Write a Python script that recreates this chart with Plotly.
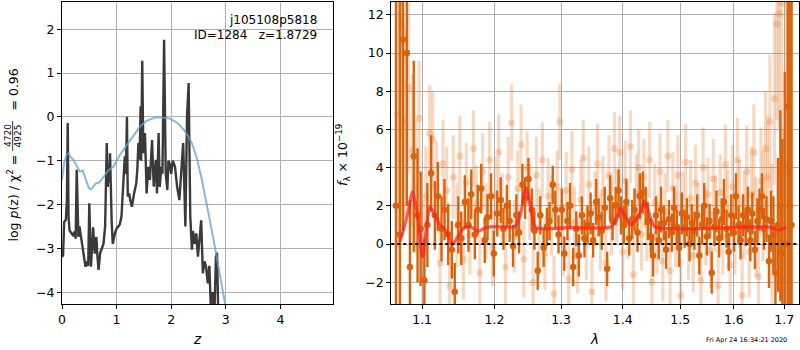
import plotly.graph_objects as go

# ---------------- left panel data: log p(z) ----------------
z_pz = [0.000,0.020,0.040,0.070,0.090,0.105,0.120,0.140,0.170,0.200,
        0.230,0.250,0.270,0.290,0.300,0.320,0.350,0.380,0.410,0.430,
        0.460,0.480,0.500,0.520,0.530,0.560,0.570,0.600,0.630,0.650,
        0.670,0.700,0.730,0.760,0.790,0.820,0.840,0.850,0.870,0.880,
        0.910,0.930,0.970,1.000,1.030,1.060,1.090,1.120,1.150,1.170,
        1.190,1.205,1.230,1.250,1.280,1.320,1.360,1.380,1.400,1.420,
        1.440,1.450,1.470,1.490,1.520,1.550,1.580,1.610,1.650,1.680,
        1.720,1.740,1.770,1.790,1.820,1.840,1.870,1.900,1.930,1.950,
        1.980,2.000,2.030,2.070,2.110,2.150,2.190,2.220,2.260,2.290,
        2.320,2.350,2.380,2.400,2.430,2.460,2.490,2.520,2.550,2.580,
        2.610,2.640,2.670,2.700,2.730,2.760,2.790,2.820,2.840,2.870]
logp_pz = [-3.20,-3.15,-2.40,-2.35,-1.90,-0.14,-2.30,-2.60,-2.65,-2.70,
           -2.62,-2.78,-1.21,-2.50,-2.74,-2.50,-2.75,-2.96,-3.30,-3.42,
           -3.30,-3.40,-1.97,-3.00,-3.42,-2.80,-2.52,-3.12,-2.74,-3.20,
           -3.49,-3.10,-3.00,-2.90,-2.50,-0.60,-1.60,-1.14,-1.50,-0.83,
           -2.40,-2.90,-2.65,-2.55,-2.50,-2.45,-2.27,-1.59,-0.90,-1.30,
           0.00,-1.82,-1.75,-1.90,-2.05,-1.75,-1.52,-1.20,-0.60,-0.98,
           0.24,-1.00,1.28,-0.83,-0.37,-1.75,-1.14,-1.44,-0.53,-1.59,
           -0.98,-1.75,-0.37,-1.60,-1.14,-1.30,1.76,-1.29,-1.67,-1.00,
           -1.10,-1.30,-1.00,-1.14,-1.60,-1.90,-1.14,-0.60,-2.50,0.00,
           0.77,-2.27,-3.03,-2.60,-2.90,-2.66,-3.19,-2.80,-2.36,-3.57,
           -3.30,-3.42,-3.80,-3.40,-4.50,-4.00,-4.60,-3.19,-3.10,-5.00]

z_prior = [0.00,0.04,0.08,0.12,0.16,0.21,0.27,0.33,0.38,0.44,
           0.49,0.53,0.58,0.62,0.68,0.76,0.85,0.94,1.06,1.19,
           1.31,1.43,1.55,1.71,1.86,1.98,2.13,2.26,2.38,2.46,
           2.55,2.64,2.73,2.82,2.91,3.00,3.05]
logp_prior = [-1.44,-1.05,-0.88,-0.83,-0.92,-0.98,-1.12,-1.25,-1.22,-1.44,
              -1.62,-1.66,-1.58,-1.52,-1.50,-1.37,-1.22,-1.14,-0.87,-0.64,
              -0.42,-0.22,-0.09,-0.01,-0.02,-0.04,-0.15,-0.34,-0.60,-0.90,
              -1.36,-1.90,-2.50,-3.10,-3.72,-4.33,-4.70]

left_xticks = [0, 1, 2, 3, 4]
left_yticks = [-4, -3, -2, -1, 0, 1, 2]

# ---------------- right panel data: spectrum ----------------
wave_main = [1.066,1.071,1.075,1.080,1.084,1.089,1.094,1.098,1.103,1.107,
             1.112,1.117,1.121,1.126,1.130,1.135,1.140,1.144,1.149,1.153,
             1.158,1.163,1.167,1.172,1.176,1.181,1.186,1.190,1.195,1.199,
             1.204,1.209,1.213,1.218,1.222,1.227,1.232,1.236,1.241,1.245,
             1.250,1.255,1.259,1.264,1.268,1.273,1.278,1.282,1.287,1.291,
             1.296,1.301,1.305,1.310,1.314,1.319,1.324,1.328,1.333,1.337,
             1.342,1.347,1.351,1.356,1.360,1.365,1.370,1.374,1.379,1.383,
             1.388,1.393,1.397,1.402,1.406,1.411,1.416,1.420,1.425,1.429,
             1.434,1.439,1.443,1.448,1.452,1.457,1.462,1.466,1.471,1.475,
             1.480,1.485,1.489,1.494,1.498,1.503,1.508,1.512,1.517,1.521,
             1.526,1.531,1.535,1.540,1.544,1.549,1.554,1.558,1.563,1.567,
             1.572,1.577,1.581,1.586,1.590,1.595,1.600,1.604,1.609,1.613,
             1.618,1.623,1.627,1.632,1.636,1.641,1.646,1.650,1.655,1.659,
             1.664,1.669,1.673,1.678,1.682,1.687,1.692,1.696,1.701,1.707,
             1.711,1.715]
flux_main = [2.0,0.5,10.7,10.0,-1.2,4.6,1.5,0.8,-1.9,1.0,
             3.7,1.5,2.5,0.8,1.8,0.5,-0.3,-2.5,1.0,0.3,
             2.2,1.0,2.6,0.5,1.8,2.9,0.2,1.4,2.5,-0.5,
             1.6,2.3,0.8,2.0,1.2,-0.1,1.5,0.6,3.1,2.4,
             3.4,1.8,0.7,-1.4,1.5,-0.2,0.9,1.2,3.1,1.8,
             0.5,1.8,-0.5,1.2,2.0,-1.2,0.8,-0.6,1.5,0.3,
             1.0,1.6,0.2,2.2,1.4,0.7,1.9,-1.3,2.4,1.2,
             2.0,2.8,1.5,1.0,2.2,0.3,1.3,1.8,0.6,2.5,
             2.7,2.0,1.2,0.4,-0.6,1.5,0.2,1.8,1.1,-0.3,
             1.3,0.6,1.9,0.9,-0.2,1.6,0.8,1.4,0.0,1.1,
             0.7,1.5,-0.6,1.0,2.0,0.4,1.2,-1.5,0.9,1.7,
             0.3,1.3,2.2,0.8,-0.4,1.5,0.6,2.5,1.0,0.2,
             1.5,0.9,1.8,0.2,1.6,-0.3,1.2,1.8,2.5,0.8,
             1.3,-0.9,1.2,0.5,-1.5,1.0,2.0,-0.5,0.0,7.2,
             2.0,1.0]
err_main = [16,14,10,8,3.5,5,3.5,3.0,2.2,2.2,
            2.0,1.8,1.8,1.7,1.6,1.6,1.5,1.5,1.5,1.4,
            1.4,1.4,1.3,1.3,1.3,1.3,1.2,1.2,1.2,1.2,
            1.2,1.2,1.1,1.1,1.1,1.1,1.1,1.1,1.1,1.1,
            1.1,1.1,1.0,1.0,1.0,1.0,1.0,1.0,1.0,1.0,
            1.0,1.1,0.9,1.0,1.2,1.0,0.9,1.1,1.0,1.0,
            1.0,1.1,0.9,1.2,1.0,1.0,1.1,0.9,1.2,1.0,
            1.0,1.1,1.0,1.0,1.2,0.9,1.0,1.1,1.0,1.2,
            1.1,1.0,1.0,0.9,1.1,1.0,1.0,1.2,0.9,1.0,
            1.0,1.0,1.1,0.9,1.0,1.1,1.0,1.0,0.9,1.0,
            1.0,1.1,1.0,1.0,1.2,1.0,0.9,1.1,1.0,1.1,
            1.0,1.1,1.2,1.0,1.0,1.1,1.0,1.2,1.0,1.0,
            1.1,1.0,1.2,1.1,1.1,1.0,1.2,1.1,1.2,1.1,
            1.2,1.4,1.6,2.0,2.5,3.5,5,6,9,14,
            18,25]

wave_beam = [1.068,1.073,1.078,1.082,1.087,1.091,1.096,1.101,1.105,1.110,
             1.114,1.119,1.124,1.128,1.133,1.137,1.142,1.147,1.151,1.156,
             1.160,1.165,1.170,1.174,1.179,1.183,1.188,1.193,1.197,1.202,
             1.206,1.211,1.216,1.220,1.225,1.229,1.234,1.239,1.243,1.248,
             1.252,1.257,1.262,1.266,1.271,1.275,1.280,1.285,1.289,1.294,
             1.298,1.303,1.308,1.312,1.317,1.321,1.326,1.331,1.335,1.340,
             1.344,1.349,1.354,1.358,1.363,1.367,1.372,1.377,1.381,1.386,
             1.390,1.395,1.400,1.404,1.409,1.413,1.418,1.423,1.427,1.432,
             1.436,1.441,1.446,1.450,1.455,1.459,1.464,1.469,1.473,1.478,
             1.482,1.487,1.492,1.496,1.501,1.505,1.510,1.515,1.519,1.524,
             1.528,1.533,1.538,1.542,1.547,1.551,1.556,1.561,1.565,1.570,
             1.574,1.579,1.584,1.588,1.593,1.597,1.602,1.607,1.611,1.616,
             1.620,1.625,1.630,1.634,1.639,1.643,1.648,1.653,1.657,1.662,
             1.666,1.671,1.675,1.680,1.685,1.689,1.694,1.698,1.703]
flux_beam = [6.8,11.5,6.4,8.2,4.9,3.0,6.6,-0.5,2.5,5.8,
             5.5,3.0,-1.0,4.2,2.8,-2.2,3.5,1.0,4.6,-0.8,
             3.2,0.5,5.0,2.1,-1.5,3.8,1.2,4.4,-0.2,2.6,
             4.8,1.8,-1.2,3.5,6.35,0.4,2.9,5.2,-0.8,4.0,
             2.2,-2.0,3.6,0.8,4.4,-0.5,2.5,1.5,-2.6,3.0,
             6.4,0.2,2.8,-1.8,3.9,1.1,-0.6,2.3,4.5,0.0,
             3.1,-2.5,1.8,4.2,0.6,2.7,-1.0,3.6,1.4,5.0,
             2.0,4.8,-0.4,3.3,1.2,5.1,-1.6,2.6,4.0,0.5,
             3.5,1.0,4.4,-2.0,2.2,0.3,3.8,-0.9,1.7,4.6,
             -1.4,2.9,0.8,3.6,-2.7,1.9,4.3,0.2,2.4,-0.6,
             3.2,1.3,-1.9,4.0,0.9,2.6,-0.3,3.4,1.6,-2.2,
             2.7,0.4,4.16,1.8,-1.1,3.0,0.6,4.4,2.1,-2.7,
             1.5,3.8,-0.4,2.6,4.8,0.9,-1.7,3.3,2.0,5.0,
             3.5,6.4,0.2,7.6,11.5,12.05,12.6,-2.0,4.0]
err_beam = [7,6,5,4.5,4,3.5,3,2.8,2.6,2.5,
            2.5,2.4,2.4,2.3,2.3,2.2,2.2,2.2,2.1,2.1,
            2.1,2.1,2.0,2.0,2.0,2.0,2.0,2.0,2.0,2.0,
            2.0,1.9,2.0,2.1,2.0,1.9,2.0,2.1,2.0,1.9,
            2.0,1.9,2.0,2.1,2.0,1.9,2.0,2.1,2.0,1.9,
            2.0,1.9,2.0,2.1,2.0,1.9,2.0,2.1,2.0,1.9,
            2.0,1.9,2.0,2.1,2.0,1.9,2.0,2.1,2.0,1.9,
            2.0,1.9,2.0,2.1,2.0,1.9,2.0,2.1,2.0,1.9,
            2.0,1.9,2.0,2.1,2.0,1.9,2.0,2.1,2.0,1.9,
            2.0,1.9,2.0,2.1,2.0,1.9,2.0,2.1,2.0,1.9,
            2.0,1.9,2.0,2.1,2.0,1.9,2.0,2.1,2.0,1.9,
            2.0,2.0,2.1,2.1,2.1,2.2,2.2,2.2,2.3,2.3,
            2.3,2.4,2.4,2.5,2.5,2.6,2.7,2.8,2.9,3.0,
            3.2,3.5,4.0,4.5,5,6,7,8,9]

wave_model = [1.071,1.080,1.0876,1.094,1.1005,1.105,1.1104,1.117,1.1239,1.133,
              1.140,1.147,1.156,1.165,1.177,1.189,1.2032,1.2294,1.2379,1.2463,
              1.2547,1.2603,1.3139,1.379,1.388,1.396,1.405,1.4138,1.4278,1.4374,
              1.4476,1.456,1.6725,1.6882,1.704]
flux_model = [0.12,1.4,2.75,1.5,-0.67,0.6,1.96,1.5,1.0,0.65,
              -0.05,0.3,0.83,0.91,0.68,0.88,0.91,0.91,1.53,2.96,
              1.7,0.86,0.86,0.88,1.2,1.88,1.4,1.0,1.53,2.26,
              1.35,0.88,0.88,0.72,0.9]

right_xticks = [1.1, 1.2, 1.3, 1.4, 1.5, 1.6, 1.7]
right_xticklabels = ['1.1', '1.2', '1.3', '1.4', '1.5', '1.6', '1.7']
right_yticks = [-2, 0, 2, 4, 6, 8, 10, 12]

# ---------------- figure ----------------
FONT = 'DejaVu Sans'
W, H = 800, 350
ML, MR, MT, MB = 62, 1, 2, 46
PW, PH = W - ML - MR, H - MT - MB


def px(x):
    return (x - ML) / PW


def py(y):
    return (H - MB - y) / PH


ORANGE = '#d9620b'
LIGHT = 'rgba(228,120,40,0.28)'

fig = go.Figure()

fig.add_trace(go.Scatter(x=z_pz, y=logp_pz, mode='lines',
                         line=dict(color='#3a3a3a', width=2.4),
                         xaxis='x', yaxis='y', showlegend=False))
fig.add_trace(go.Scatter(x=z_prior, y=logp_prior, mode='lines',
                         line=dict(color='rgba(100,160,205,0.75)', width=2),
                         xaxis='x', yaxis='y', showlegend=False))

fig.add_trace(go.Scatter(x=wave_beam, y=flux_beam, mode='markers',
                         marker=dict(color=LIGHT, size=7, line=dict(width=0)),
                         error_y=dict(type='data', array=err_beam, color=LIGHT,
                                      thickness=3.2, width=0),
                         xaxis='x2', yaxis='y2', showlegend=False))
fig.add_trace(go.Scatter(x=wave_main, y=flux_main, mode='markers',
                         marker=dict(color=ORANGE, size=6.5, line=dict(width=0)),
                         error_y=dict(type='data', array=err_main, color=ORANGE,
                                      thickness=2.4, width=0),
                         xaxis='x2', yaxis='y2', showlegend=False))
fig.add_trace(go.Scatter(x=wave_model, y=flux_model, mode='lines',
                         line=dict(color='rgba(255,30,30,0.72)', width=3.2,
                                   shape='spline', smoothing=0.6),
                         xaxis='x2', yaxis='y2', showlegend=False))

axis_common = dict(showgrid=True, gridcolor='#b0b0b0', gridwidth=1,
                   showline=True, linecolor='black', linewidth=1.3, mirror=True,
                   ticks='outside', ticklen=4, tickwidth=1, tickcolor='black',
                   zeroline=False,
                   tickfont=dict(family=FONT, size=12.5, color='black'))

fig.update_layout(
    width=W, height=H,
    margin=dict(l=ML, r=MR, t=MT, b=MB),
    paper_bgcolor='white', plot_bgcolor='white',
    font=dict(family=FONT, color='black'),
    xaxis=dict(domain=[0, px(333.3)], range=[0, 4.97], tickvals=left_xticks,
               anchor='y', **axis_common),
    yaxis=dict(domain=[0, 1], range=[-4.27, 2.62], tickvals=left_yticks,
               anchor='x', **axis_common),
    xaxis2=dict(domain=[px(391.3), 1], type='log', range=[0.02531, 0.23813],
                tickvals=right_xticks, ticktext=right_xticklabels,
                anchor='y2', **axis_common),
    yaxis2=dict(domain=[0, 1], range=[-3.14, 12.67], tickvals=right_yticks,
                anchor='x2', **axis_common),
)

fig.add_shape(type='line', xref='x2 domain', yref='y2', x0=0, x1=1, y0=0, y1=0,
              line=dict(color='black', width=2, dash='dot'), layer='above')

ann = []


def text(x, y, t, size=12.5, angle=0, xanchor='center', yanchor='middle'):
    ann.append(dict(x=px(x), y=py(y), xref='paper', yref='paper', text=t,
                    showarrow=False, textangle=angle, xanchor=xanchor,
                    yanchor=yanchor, font=dict(family=FONT, size=size, color='black')))


text(318.5, 20, 'j105108p5818', size=12, xanchor='right')
text(318.5, 35, 'ID=1284   z=1.8729', size=12, xanchor='right')
text(197, 339, '<i>z</i>', size=13.5)
text(594, 339, '<i>λ</i>', size=13.5)
# left y label (rotated), pieces so the fraction can be stacked
text(12.5, 198, 'log <i>p</i>(z) / χ<sup>2</sup> =', size=12.5, angle=-90)
text(8, 136, '4720', size=9, angle=-90)
text(17.5, 136, '4925', size=9, angle=-90)
text(12.5, 90, '= 0.96', size=12.5, angle=-90)
text(343, 155, '<i>f</i><sub>λ</sub> × 10<sup>−19</sup>', size=12.5, angle=-90)
text(788.5, 339.5, 'Fri Apr 24 16:34:21 2020', size=6.5, xanchor='right')
fig.update_layout(annotations=ann)

fig.add_shape(type='line', xref='paper', yref='paper', x0=px(12.7), x1=px(12.7),
              y0=py(121), y1=py(151), line=dict(color='black', width=0.8))

fig.write_html('out.html')
